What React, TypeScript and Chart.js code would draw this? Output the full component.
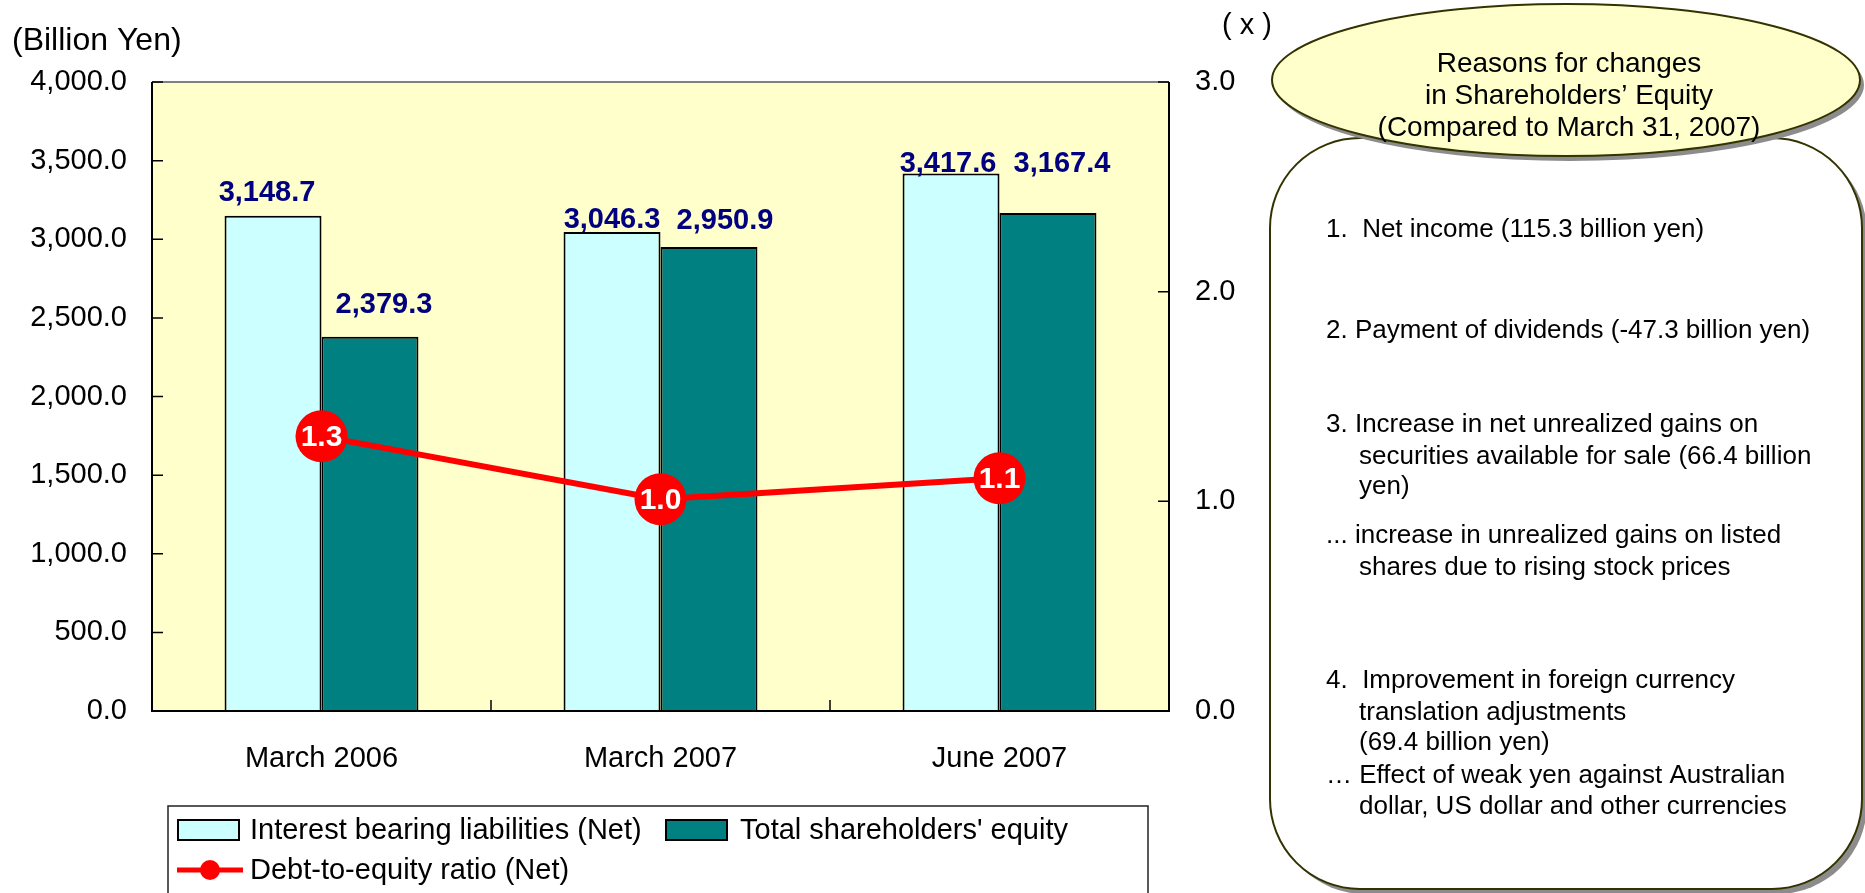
import React, { useEffect, useRef } from "react";
import { Chart, registerables } from "chart.js";
Chart.register(...registerables);

// ---------- data ----------
const categories = ["March 2006", "March 2007", "June 2007"];
const interestBearingNet = [3148.7, 3046.3, 3417.6];
const shareholdersEquity = [2379.3, 2950.9, 3167.4];
const debtToEquity = [1.31, 1.01, 1.11];
const seriesNames = [
  "Interest bearing liabilities (Net)",
  "Total shareholders' equity",
  "Debt-to-equity ratio (Net)",
];
const leftAxisTitle = "(Billion Yen)";
const rightAxisTitle = "( x )";
const leftAxisMax = 4000;
const leftAxisStep = 500;
const rightAxisMax = 3;
const rightAxisStep = 1;
const calloutTitle = [
  "Reasons for changes",
  "in Shareholders\u2019 Equity",
  "(Compared to March 31, 2007)",
];
const calloutLines = [
  "1.  Net income (115.3 billion yen)",
  "2. Payment of dividends (-47.3 billion yen)",
  "3. Increase in net unrealized gains on",
  "securities available for sale (66.4 billion",
  "yen)",
  "... increase in unrealized gains on listed",
  "shares due to rising stock prices",
  "4.  Improvement in foreign currency",
  "translation adjustments",
  "(69.4 billion yen)",
  "\u2026 Effect of weak yen against Australian",
  "dollar, US dollar and other currencies",
];

// ---------- layout / style (not data) ----------
const FONT = "'Liberation Sans', Arial, Helvetica, sans-serif";
const CYAN = "#CCFFFF";
const TEAL = "#008080";
const RED = "#FF0000";
const NAVY = "#000080";
const PLOT_BG = "#FFFFCC";
const OLIVE = "#333300";
// per-label offsets [dx, dy above bar top] for the two bar series
const barLabelOffsets = [
  [[-6, 23], [14, 32]],
  [[0, 12], [16, 26]],
  [[-3, 10], [14, 49]],
];
const calloutIndent = [0, 0, 0, 1, 1, 0, 1, 0, 1, 1, 0, 1];
const calloutY = [230, 331, 425, 457, 487, 536, 568, 681, 713, 743, 776, 807];

const fmt1 = (v: number) =>
  v.toLocaleString("en-US", { minimumFractionDigits: 1, maximumFractionDigits: 1 });

const decorPlugin = {
  id: "decor",
  beforeDraw(chart: any) {
    const { ctx, chartArea: a } = chart;
    ctx.save();
    ctx.fillStyle = "#ffffff";
    ctx.fillRect(0, 0, chart.width, chart.height);
    ctx.fillStyle = PLOT_BG;
    ctx.fillRect(a.left, a.top, a.right - a.left, a.bottom - a.top);
    ctx.restore();
  },
  afterDraw(chart: any) {
    const { ctx, chartArea: a } = chart;
    const xs = chart.scales.x;
    const ys = chart.scales.y;
    const y1 = chart.scales.y1;
    ctx.save();

    // plot frame
    ctx.lineWidth = 2;
    ctx.strokeStyle = "#808080";
    ctx.beginPath();
    ctx.moveTo(a.left, a.top);
    ctx.lineTo(a.right, a.top);
    ctx.stroke();
    ctx.strokeStyle = "#000";
    ctx.beginPath();
    ctx.moveTo(a.left, a.top);
    ctx.lineTo(a.left, a.bottom);
    ctx.lineTo(a.right, a.bottom);
    ctx.lineTo(a.right, a.top);
    ctx.stroke();

    // inward tick marks
    ctx.lineWidth = 1.5;
    ctx.beginPath();
    ys.ticks.forEach((t: any) => {
      const y = ys.getPixelForValue(t.value);
      ctx.moveTo(a.left, y);
      ctx.lineTo(a.left + 11, y);
    });
    y1.ticks.forEach((t: any) => {
      const y = y1.getPixelForValue(t.value);
      ctx.moveTo(a.right - 11, y);
      ctx.lineTo(a.right, y);
    });
    for (let i = 0; i <= categories.length; i++) {
      const x = xs.getPixelForValue(i - 0.5);
      ctx.moveTo(x, a.bottom);
      ctx.lineTo(x, a.bottom - 11);
    }
    ctx.stroke();

    // axis titles
    ctx.fillStyle = "#000";
    ctx.font = `32px ${FONT}`;
    ctx.textBaseline = "middle";
    ctx.textAlign = "left";
    ctx.fillText(leftAxisTitle, 12, 41);
    ctx.font = `29px ${FONT}`;
    ctx.fillText(rightAxisTitle, 1222, 26);

    // bar value labels
    ctx.font = `bold 29px ${FONT}`;
    ctx.fillStyle = NAVY;
    ctx.textAlign = "center";
    [0, 1].forEach((di) => {
      const meta = chart.getDatasetMeta(di);
      meta.data.forEach((el: any, i: number) => {
        const val = chart.data.datasets[di].data[i] as number;
        const [dx, dy] = barLabelOffsets[i][di];
        ctx.fillText(fmt1(val), el.x + dx, el.y - dy);
      });
    });

    // ratio labels inside markers
    ctx.font = `bold 30px ${FONT}`;
    ctx.fillStyle = "#fff";
    const lm = chart.getDatasetMeta(2);
    lm.data.forEach((el: any, i: number) => {
      const val = chart.data.datasets[2].data[i] as number;
      ctx.fillText(val.toFixed(1), el.x, el.y + 1);
    });

    // legend
    const L = { x: 168, y: 806, w: 980, h: 120 };
    ctx.lineWidth = 1.5;
    ctx.strokeStyle = "#222";
    ctx.strokeRect(L.x, L.y, L.w, L.h);
    ctx.font = `29px ${FONT}`;
    ctx.textAlign = "left";
    ctx.lineWidth = 2;
    ctx.strokeStyle = "#000";
    ctx.fillStyle = CYAN;
    ctx.fillRect(178, 820, 61, 20);
    ctx.strokeRect(178, 820, 61, 20);
    ctx.fillStyle = TEAL;
    ctx.fillRect(666, 820, 61, 20);
    ctx.strokeRect(666, 820, 61, 20);
    ctx.fillStyle = "#000";
    ctx.fillText(seriesNames[0], 250, 831);
    ctx.fillText(seriesNames[1], 740, 831);
    ctx.strokeStyle = RED;
    ctx.lineWidth = 5;
    ctx.beginPath();
    ctx.moveTo(177, 870);
    ctx.lineTo(243, 870);
    ctx.stroke();
    ctx.fillStyle = RED;
    ctx.beginPath();
    ctx.arc(210, 870, 10, 0, Math.PI * 2);
    ctx.fill();
    ctx.fillStyle = "#000";
    ctx.fillText(seriesNames[2], 250, 871);

    // callout panel
    ctx.fillStyle = "#8c8c8c";
    ctx.beginPath();
    ctx.roundRect(1275, 143, 592, 751, 90);
    ctx.fill();
    ctx.fillStyle = "#fff";
    ctx.strokeStyle = OLIVE;
    ctx.lineWidth = 2;
    ctx.beginPath();
    ctx.roundRect(1270, 138, 592, 751, 90);
    ctx.fill();
    ctx.stroke();

    ctx.fillStyle = "#8c8c8c";
    ctx.beginPath();
    ctx.ellipse(1570, 85, 294, 76, 0, 0, Math.PI * 2);
    ctx.fill();
    ctx.fillStyle = PLOT_BG;
    ctx.beginPath();
    ctx.ellipse(1566, 80, 294, 76, 0, 0, Math.PI * 2);
    ctx.fill();
    ctx.stroke();

    ctx.fillStyle = "#000";
    ctx.textAlign = "center";
    ctx.font = `28px ${FONT}`;
    calloutTitle.forEach((t, i) => ctx.fillText(t, 1569, 64 + i * 32));

    ctx.textAlign = "left";
    ctx.font = `26px ${FONT}`;
    calloutLines.forEach((t, i) => {
      ctx.fillText(t, calloutIndent[i] ? 1359 : 1326, calloutY[i]);
    });

    ctx.restore();
  },
};

export default function App() {
  const ref = useRef<HTMLCanvasElement>(null);
  useEffect(() => {
    const chart = new Chart(ref.current as HTMLCanvasElement, {
      type: "bar",
      data: {
        labels: categories,
        datasets: [
          {
            type: "bar",
            label: seriesNames[0],
            data: interestBearingNet,
            backgroundColor: CYAN,
            borderColor: "#000",
            borderWidth: 2,
            yAxisID: "y",
            order: 2,
            barPercentage: 1,
            categoryPercentage: 0.572,
          },
          {
            type: "bar",
            label: seriesNames[1],
            data: shareholdersEquity,
            backgroundColor: TEAL,
            borderColor: "#000",
            borderWidth: 2,
            yAxisID: "y",
            order: 2,
            barPercentage: 1,
            categoryPercentage: 0.572,
          },
          {
            type: "line",
            label: seriesNames[2],
            data: debtToEquity,
            borderColor: RED,
            borderWidth: 6,
            pointRadius: 26,
            pointHoverRadius: 26,
            pointBackgroundColor: RED,
            pointBorderWidth: 0,
            yAxisID: "y1",
            order: 1,
          } as any,
        ],
      },
      options: {
        animation: false,
        responsive: false,
        devicePixelRatio: 1,
        layout: { padding: { left: 0, top: 82, right: 596, bottom: 102 } },
        plugins: { legend: { display: false }, tooltip: { enabled: false } },
        scales: {
          x: {
            grid: { display: false, drawTicks: false },
            border: { display: false },
            ticks: { color: "#000", font: { family: FONT, size: 29 }, padding: 31 },
            afterFit: (s: any) => {
              s.height = 80;
            },
          },
          y: {
            position: "left",
            min: 0,
            max: leftAxisMax,
            grid: { display: false, drawTicks: false },
            border: { display: false },
            ticks: {
              stepSize: leftAxisStep,
              color: "#000",
              font: { family: FONT, size: 29 },
              padding: 25,
              callback: (v: any) => fmt1(Number(v)),
            },
            afterFit: (s: any) => {
              s.width = 152;
            },
          },
          y1: {
            position: "right",
            min: 0,
            max: rightAxisMax,
            grid: { display: false, drawTicks: false },
            border: { display: false },
            ticks: {
              stepSize: rightAxisStep,
              color: "#000",
              font: { family: FONT, size: 29 },
              padding: 26,
              callback: (v: any) => Number(v).toFixed(1),
            },
            afterFit: (s: any) => {
              s.width = 100;
            },
          },
        },
      } as any,
      plugins: [decorPlugin],
    });
    return () => chart.destroy();
  }, []);
  return (
    <div style={{ position: "fixed", left: 0, top: 0, width: 1865, height: 893, background: "#fff" }}>
      <canvas ref={ref} width={1865} height={893} style={{ display: "block", width: 1865, height: 893 }} />
    </div>
  );
}
